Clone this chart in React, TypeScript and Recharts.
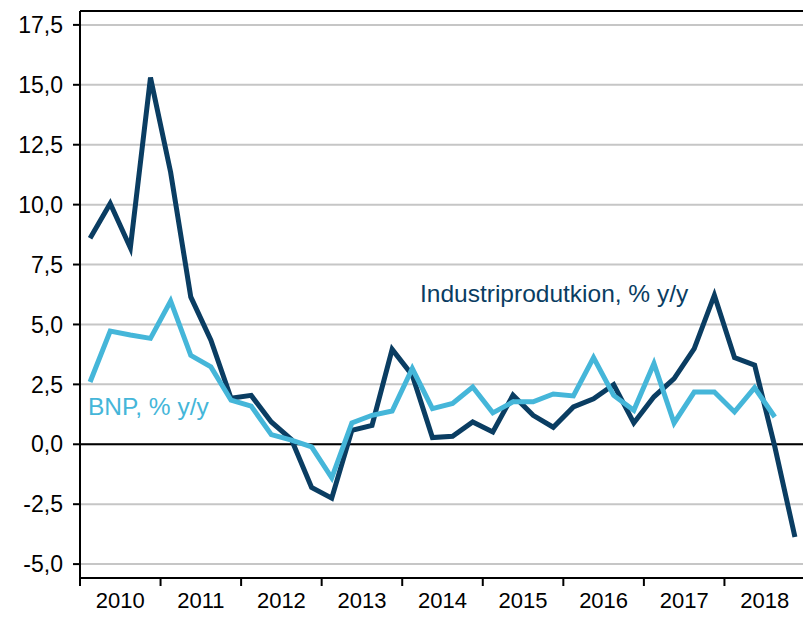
import { LineChart, Line, XAxis, YAxis, CartesianGrid, ReferenceLine } from "recharts"

// quarters 2010Q1 .. 2018Q4
const years = ["2010", "2011", "2012", "2013", "2014", "2015", "2016", "2017", "2018"]

const industri = [
  8.6, 10.05, 8.2, 15.3,
  11.35, 6.15, 4.34, 1.92,
  2.04, 0.93, 0.2, -1.8,
  -2.25, 0.58, 0.79, 3.96,
  2.88, 0.28, 0.33, 0.93,
  0.51, 2.05, 1.21, 0.71,
  1.56, 1.9, 2.49, 0.89,
  1.98, 2.74, 3.99, 6.22,
  3.62, 3.3, -0.1, -3.87,
]

const bnp = [
  2.6, 4.72, 4.56, 4.42,
  5.98, 3.71, 3.23, 1.84,
  1.59, 0.4, 0.17, -0.11,
  -1.4, 0.89, 1.21, 1.39,
  3.16, 1.49, 1.7, 2.39,
  1.31, 1.77, 1.77, 2.1,
  2.02, 3.62, 2.04, 1.42,
  3.37, 0.89, 2.18, 2.18,
  1.35, 2.36, 1.14,
]

const yTicks = [-5, -2.5, 0, 2.5, 5, 7.5, 10, 12.5, 15, 17.5]
const xTicks = Array.from({ length: 19 }, (_, i) => i * 2)

const data = industri.map((v, i) => ({
  q: i + 0.5,
  industri: v,
  bnp: i < bnp.length ? bnp[i] : null,
}))

const DARK = "#0a3d62"
const LIGHT = "#45b6d9"
const FONT = "'Liberation Sans', Arial, sans-serif"

const YearTick = (props: any) => {
  const { x, y, payload } = props
  const v = payload.value
  if (v % 4 === 0) {
    return <line x1={x} x2={x} y1={y} y2={y + 8} stroke="#000" strokeWidth={2} />
  }
  return (
    <text x={x} y={y + 30} textAnchor="middle" fontSize={22} fontFamily={FONT} fill="#000">
      {years[(v - 2) / 4]}
    </text>
  )
}

export default function App() {
  return (
    <div style={{ position: "absolute", left: 0, top: 0, width: 803, height: 618, overflow: "hidden", background: "#fff" }}>
      <LineChart
        width={810}
        height={618}
        data={data}
        margin={{ top: 11, right: 5, bottom: 0, left: 0 }}
      >
        <CartesianGrid horizontal vertical={false} stroke="#c6c6c6" strokeWidth={2} />
        <XAxis
          dataKey="q"
          type="number"
          domain={[0, 36]}
          ticks={xTicks}
          interval={0}
          tick={<YearTick />}
          tickLine={false}
          tickSize={0}
          tickMargin={0}
          height={40}
          axisLine={{ stroke: "#000", strokeWidth: 2 }}
        />
        <YAxis
          type="number"
          domain={[-5.58, 18.08]}
          ticks={yTicks}
          interval={0}
          width={80}
          tickSize={7}
          tickMargin={10}
          tickFormatter={(v: number) => v.toFixed(1).replace(".", ",")}
          tick={{ fontSize: 23, fontFamily: FONT, fill: "#000" }}
          tickLine={{ stroke: "#000", strokeWidth: 2 }}
          axisLine={{ stroke: "#000", strokeWidth: 2 }}
          allowDataOverflow
        />
        <ReferenceLine y={0} stroke="#000" strokeWidth={2} />
        <ReferenceLine y={18.08} stroke="#000" strokeWidth={2} />
        <Line
          dataKey="industri"
          stroke={DARK}
          strokeWidth={5}
          dot={false}
          isAnimationActive={false}
          strokeLinejoin="miter"
        />
        <Line
          dataKey="bnp"
          stroke={LIGHT}
          strokeWidth={5}
          dot={false}
          isAnimationActive={false}
          strokeLinejoin="miter"
        />
      </LineChart>
      <div style={{ position: "absolute", left: 420, top: 280, fontFamily: FONT, fontSize: 24.5, color: DARK, whiteSpace: "nowrap" }}>
        Industriprodutkion, % y/y
      </div>
      <div style={{ position: "absolute", left: 88, top: 393, fontFamily: FONT, fontSize: 24.5, color: LIGHT, whiteSpace: "nowrap" }}>
        BNP, % y/y
      </div>
    </div>
  )
}
